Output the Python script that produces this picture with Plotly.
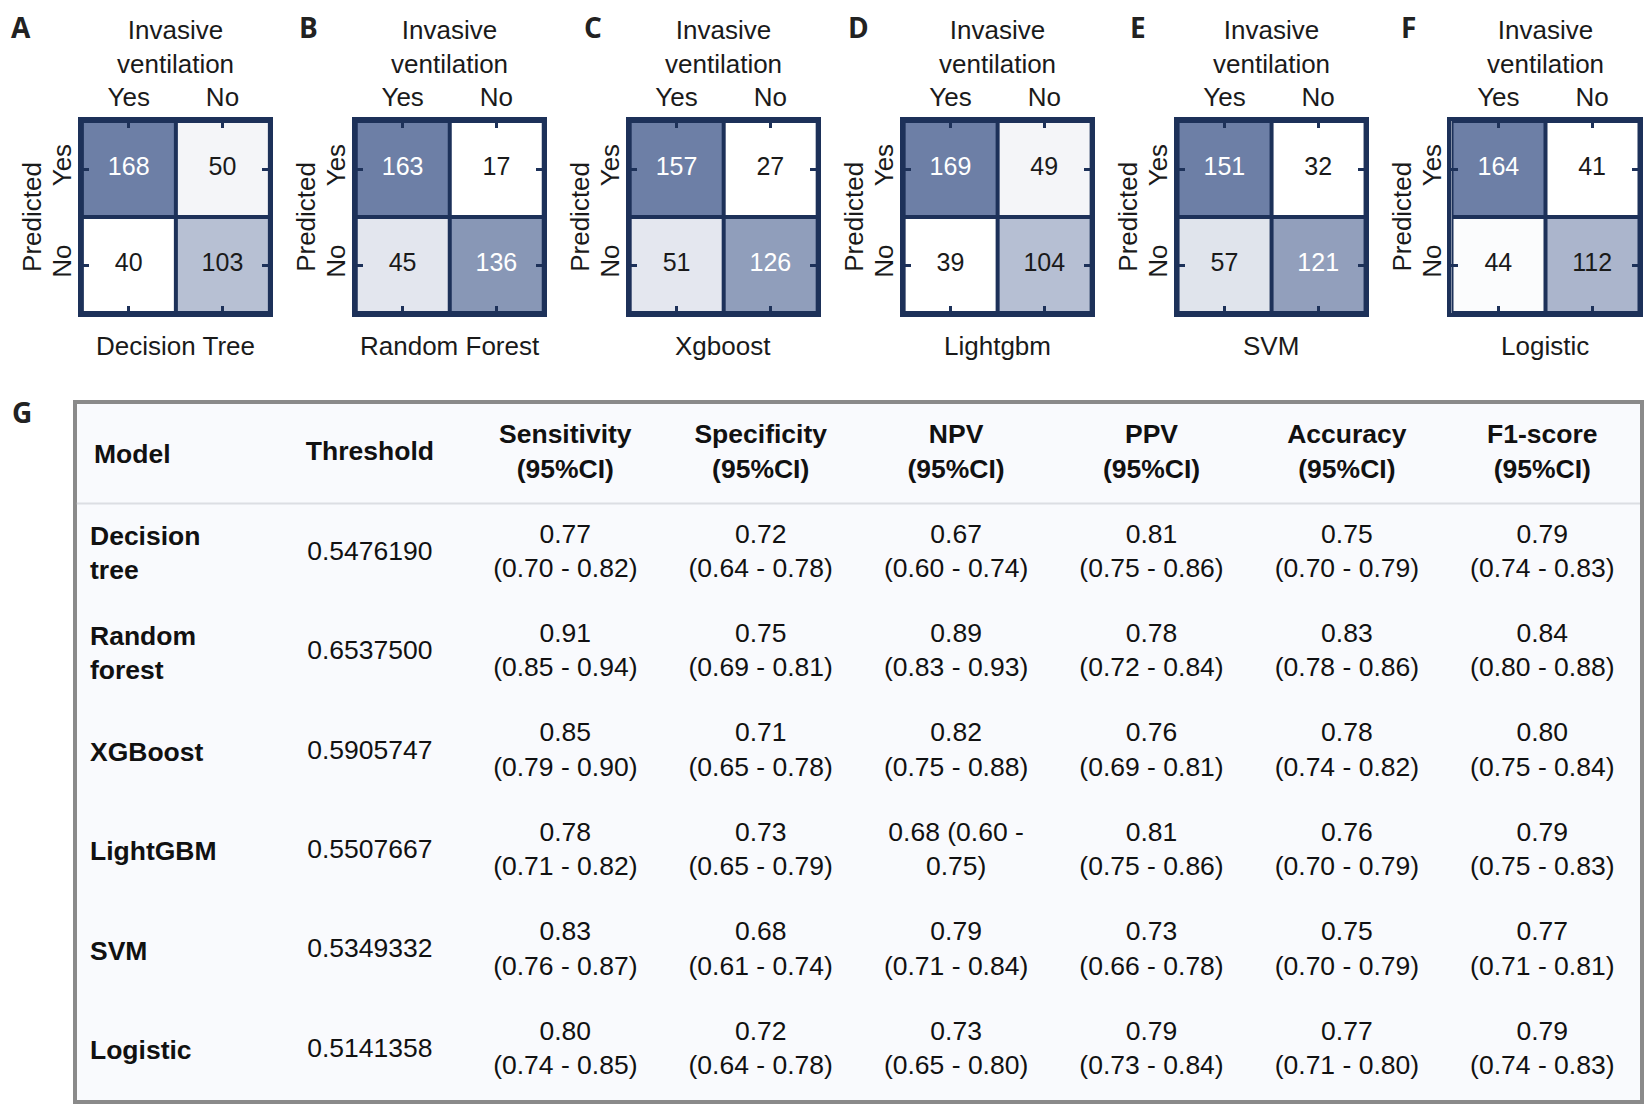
import plotly.graph_objects as go

# confusion matrices: rows = predicted (Yes, No), columns = invasive ventilation (Yes, No)
cm_labels = ["Yes", "No"]
panel_letters = ["A", "B", "C", "D", "E", "F"]
panel_names = ["Decision Tree", "Random Forest", "Xgboost", "Lightgbm", "SVM", "Logistic"]
cm_decision_tree = [[168, 50], [40, 103]]
cm_random_forest = [[163, 17], [45, 136]]
cm_xgboost = [[157, 27], [51, 126]]
cm_lightgbm = [[169, 49], [39, 104]]
cm_svm = [[151, 32], [57, 121]]
cm_logistic = [[164, 41], [44, 112]]
matrices = [cm_decision_tree, cm_random_forest, cm_xgboost, cm_lightgbm, cm_svm, cm_logistic]

# table G
table_keys = ["Model", "Threshold", "Sensitivity", "Specificity", "NPV", "PPV", "Accuracy", "F1-score"]
table_headers = ["Model", "Threshold", "Sensitivity\n(95%CI)", "Specificity\n(95%CI)", "NPV\n(95%CI)",
                 "PPV\n(95%CI)", "Accuracy\n(95%CI)", "F1-score\n(95%CI)"]
table_models = ["Decision tree", "Random forest", "XGBoost", "LightGBM", "SVM", "Logistic"]
thresholds = ["0.5476190", "0.6537500", "0.5905747", "0.5507667", "0.5349332", "0.5141358"]
sensitivity = ["0.77\n(0.70 - 0.82)", "0.91\n(0.85 - 0.94)", "0.85\n(0.79 - 0.90)",
               "0.78\n(0.71 - 0.82)", "0.83\n(0.76 - 0.87)", "0.80\n(0.74 - 0.85)"]
specificity = ["0.72\n(0.64 - 0.78)", "0.75\n(0.69 - 0.81)", "0.71\n(0.65 - 0.78)",
               "0.73\n(0.65 - 0.79)", "0.68\n(0.61 - 0.74)", "0.72\n(0.64 - 0.78)"]
npv = ["0.67\n(0.60 - 0.74)", "0.89\n(0.83 - 0.93)", "0.82\n(0.75 - 0.88)",
       "0.68 (0.60 -\n0.75)", "0.79\n(0.71 - 0.84)", "0.73\n(0.65 - 0.80)"]
ppv = ["0.81\n(0.75 - 0.86)", "0.78\n(0.72 - 0.84)", "0.76\n(0.69 - 0.81)",
       "0.81\n(0.75 - 0.86)", "0.73\n(0.66 - 0.78)", "0.79\n(0.73 - 0.84)"]
accuracy = ["0.75\n(0.70 - 0.79)", "0.83\n(0.78 - 0.86)", "0.78\n(0.74 - 0.82)",
            "0.76\n(0.70 - 0.79)", "0.75\n(0.70 - 0.79)", "0.77\n(0.71 - 0.80)"]
f1_score = ["0.79\n(0.74 - 0.83)", "0.84\n(0.80 - 0.88)", "0.80\n(0.75 - 0.84)",
            "0.79\n(0.75 - 0.83)", "0.77\n(0.71 - 0.81)", "0.79\n(0.74 - 0.83)"]
table_values = [thresholds, sensitivity, specificity, npv, ppv, accuracy, f1_score]

W, H = 1636, 1096
OFF = 6
NAVY = "#1d3159"
DARK = "#6d7fa6"
FONT = "Liberation Sans, Arial, sans-serif"
TXT = "#1a1a1a"


def fx(p):
    return min(max((p - OFF) / W, 0), 1)


def fy(p):
    return min(max(1 - (p - OFF) / H, 0), 1)


def br(s):
    return s.replace("\n", "<br>")


fig = go.Figure()
annotations = []
layout_axes = {}
letter_x = [19, 307, 592, 859, 1139, 1410]

for i, cm in enumerate(matrices):
    n = "" if i == 0 else str(i + 1)
    left = 80 + 274.6 * i
    right = left + 188
    zmin = min(min(r) for r in cm)
    zmax = max(max(r) for r in cm)
    fig.add_trace(go.Heatmap(
        z=cm, x=cm_labels, y=cm_labels, xaxis="x" + n, yaxis="y" + n,
        colorscale=[[0, "#ffffff"], [1, DARK]], zmin=zmin, zmax=zmax,
        showscale=False, xgap=4, ygap=4, hoverinfo="skip"))
    xs, ys, txt, cols = [], [], [], []
    for r, row in enumerate(cm):
        for c, v in enumerate(row):
            xs.append(cm_labels[c])
            ys.append(cm_labels[r])
            txt.append(str(v))
            cols.append("white" if (v - zmin) / (zmax - zmin) > 0.65 else TXT)
    fig.add_trace(go.Scatter(
        x=xs, y=ys, text=txt, mode="text", xaxis="x" + n, yaxis="y" + n,
        textfont=dict(family=FONT, size=25, color=cols), hoverinfo="skip", showlegend=False))

    axis_common = dict(type="category", categoryarray=cm_labels, showgrid=False, zeroline=False,
                       showline=True, linecolor=NAVY, linewidth=4, mirror="ticks",
                       ticks="inside", ticklen=7, tickwidth=3, tickcolor=NAVY,
                       tickfont=dict(family=FONT, size=26, color=TXT), fixedrange=True)
    layout_axes["xaxis" + n] = dict(axis_common, domain=[fx(left), fx(right)], anchor="y" + n,
                                    side="top", range=[-0.5, 1.5], ticklabelstandoff=1)
    layout_axes["yaxis" + n] = dict(axis_common, domain=[fy(311), fy(119)], anchor="x" + n,
                                    range=[1.5, -0.5], tickangle=-90, ticklabelstandoff=-4)

    cx = (left + right) / 2
    annotations.append(dict(text="<b>" + panel_letters[i] + "</b>", x=fx(letter_x[i]),
                            y=fy(25), xref="paper", yref="paper", xanchor="center", yanchor="middle",
                            showarrow=False, borderpad=0,
                            font=dict(family="Open Sans", size=28, color="#222")))
    annotations.append(dict(text="Invasive<br>ventilation", x=fx(cx), y=fy(45), xref="paper", yref="paper",
                            xanchor="center", yanchor="middle", showarrow=False,
                            font=dict(family=FONT, size=26, color=TXT)))
    annotations.append(dict(text="Predicted", x=fx(left - 50), y=fy(215), xref="paper", yref="paper",
                            xanchor="center", yanchor="middle", textangle=-90, showarrow=False,
                            font=dict(family=FONT, size=26, color=TXT)))
    annotations.append(dict(text=panel_names[i], x=fx(cx), y=fy(344), xref="paper", yref="paper",
                            xanchor="center", yanchor="middle", showarrow=False,
                            font=dict(family=FONT, size=26, color=TXT)))

# table
row_keys = ["header"] + table_models
for j, key in enumerate(table_keys[1:]):
    fig.add_trace(go.Scatter(
        x=[key] * len(row_keys), y=row_keys, xaxis="x7", yaxis="y7", mode="text",
        text=["<b>" + br(table_headers[j + 1]) + "</b>"] + [br(v) for v in table_values[j]],
        textposition="middle center", textfont=dict(family=FONT, size=26.5, color="#111"),
        hoverinfo="skip", showlegend=False))

annotations.append(dict(text="<b>" + table_headers[0] + "</b>", x=0.010, y="header", xref="x7 domain", yref="y7",
                        xanchor="left", yanchor="middle", showarrow=False,
                        font=dict(family=FONT, size=26.5, color="#111")))
for m in table_models:
    annotations.append(dict(text="<b>" + m.replace(" ", "<br>") + "</b>", x=0.007, y=m, xref="x7 domain",
                            yref="y7", xanchor="left", yanchor="middle", align="left", showarrow=False,
                            font=dict(family=FONT, size=26.5, color="#111")))
annotations.append(dict(text="<b>G</b>", x=fx(20), y=fy(410), xref="paper", yref="paper",
                        xanchor="center", yanchor="middle", showarrow=False, borderpad=0,
                        font=dict(family="Open Sans", size=28, color="#222")))

tbl_axis = dict(showgrid=False, zeroline=False, showticklabels=False, ticks="", showline=True,
                linecolor="#8a8a8a", linewidth=4, mirror=True, fixedrange=True, type="category")
layout_axes["xaxis7"] = dict(tbl_axis, domain=[fx(75), fx(1642)], anchor="y7",
                             categoryarray=table_keys, range=[-0.5, 7.5])
layout_axes["yaxis7"] = dict(tbl_axis, domain=[fy(1098), fy(402)], anchor="x7",
                             categoryarray=row_keys, range=[6.5, -0.5])

shapes = [
    dict(type="rect", xref="x7 domain", yref="y7 domain", x0=0, x1=1, y0=0, y1=1,
         fillcolor="#f9fafd", line=dict(width=0), layer="below"),
    dict(type="line", xref="x7 domain", yref="y7", x0=0, x1=1, y0=0.5, y1=0.5,
         line=dict(color="#dcdee3", width=2)),
]

fig.update_layout(
    width=W, height=H, margin=dict(l=0, r=0, t=0, b=0),
    paper_bgcolor="white", plot_bgcolor=NAVY, showlegend=False,
    annotations=annotations, shapes=shapes, **layout_axes)

fig.write_html("out.html")
